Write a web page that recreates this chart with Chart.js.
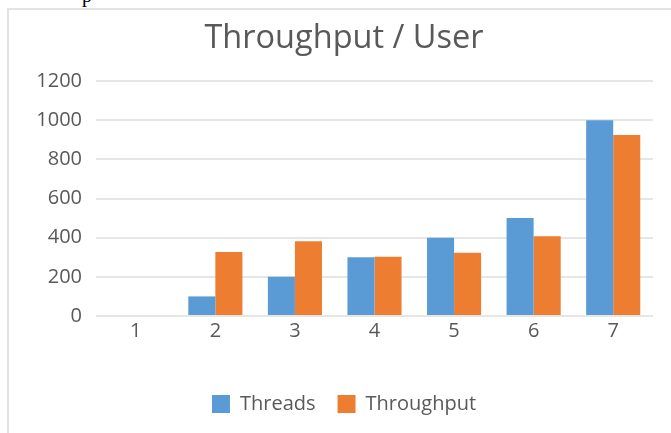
<!DOCTYPE html>
<html>
<head>
<meta charset="utf-8">
<script src="https://cdn.jsdelivr.net/npm/chart.js@4.4.0/dist/chart.umd.min.js"></script>
<style>
  html, body { margin: 0; padding: 0; background: #fff; }
  #wrap { position: relative; width: 671px; height: 433px; overflow: hidden; }
  #frame { position: absolute; left: 7px; top: 8px; right: -4px; bottom: -4px; border: 2px solid #e3e3e3; }
  #frag { position: absolute; left: 82px; top: -16px; font: 20px "Liberation Serif", serif; color: #000; }
  canvas { position: absolute; left: 0; top: 0; }
</style>
</head>
<body>
<div id="wrap">
  <div id="frame"></div>
  <div id="frag">p</div>
  <canvas id="barChart" width="671" height="433"></canvas>
</div>
<script>
// values
const categories = ['1', '2', '3', '4', '5', '6', '7'];
const threads = [0, 100, 200, 300, 400, 500, 1000];
const throughput = [0, 327, 382, 303, 323, 407, 924];

const blue = '#5B9BD5';
const orange = '#ED7D31';
const textGrey = '#595959';
const fontFamily = '"Open Sans", sans-serif';

const ctx = document.getElementById('barChart').getContext('2d');
new Chart(ctx, {
    type: 'bar',
    data: {
        labels: categories,
        datasets: [
            { label: 'Threads', data: threads, backgroundColor: blue },
            { label: 'Throughput', data: throughput, backgroundColor: orange }
        ]
    },
    options: {
        responsive: false,
        animation: false,
        datasets: { bar: { categoryPercentage: 0.68, barPercentage: 1 } },
        layout: { padding: { left: 35, right: 18, top: 0, bottom: 9 } },
        plugins: {
            title: {
                display: true,
                text: 'Throughput / User',
                color: textGrey,
                font: { family: fontFamily, size: 32.5, weight: 'normal' },
                padding: { top: 19, bottom: 23 }
            },
            legend: {
                position: 'bottom',
                labels: {
                    color: textGrey,
                    font: { family: fontFamily, size: 20 },
                    boxWidth: 18,
                    boxHeight: 18,
                    padding: 22
                }
            },
            tooltip: { enabled: false }
        },
        scales: {
            x: {
                afterFit: (axis) => { axis.height = 56; },
                grid: { display: false, drawTicks: false },
                border: { display: false },
                ticks: { color: textGrey, font: { family: fontFamily, size: 20 }, padding: 3 }
            },
            y: {
                min: 0,
                max: 1200,
                afterFit: (axis) => { axis.width = 61; },
                grid: { color: '#e6e6e6', lineWidth: 2, drawTicks: false },
                border: { display: false },
                ticks: {
                    stepSize: 200,
                    color: textGrey,
                    font: { family: fontFamily, size: 20 },
                    padding: 14,
                    callback: (v) => String(v)
                }
            }
        }
    }
});
</script>
</body>
</html>
